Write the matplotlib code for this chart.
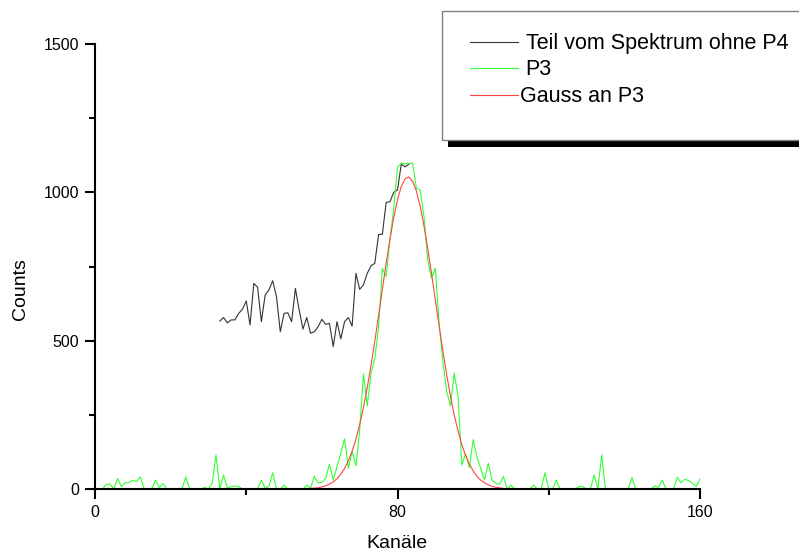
import matplotlib
matplotlib.use('Agg')
import matplotlib.pyplot as plt
from matplotlib.patches import Rectangle
from matplotlib.lines import Line2D

plt.rcParams['font.family'] = ['Liberation Sans', 'DejaVu Sans']

# Teil vom Spektrum ohne P4 (Kanal 33..83)
kanal_teil = list(range(33, 84))
counts_teil = [566, 578, 560, 570, 570, 592, 606, 634, 553, 693,
               680, 564, 654, 671, 702, 648, 530, 592, 594, 564,
               676, 603, 539, 578, 525, 530, 547, 572, 555, 558,
               480, 564, 506, 564, 578, 549, 727, 673, 688, 727,
               752, 761, 858, 859, 966, 968, 1000, 1008, 1095, 1086,
               1095]

# P3 (Kanal 0..160)
kanal_p3 = list(range(0, 161))
counts_p3 = [0, 0, 0, 16, 16, 0, 35, 8, 21, 22,
             30, 25, 41, 0, 0, 0, 30, 5, 18, 0,
             0, 0, 0, 0, 41, 0, 0, 0, 0, 5,
             0, 20, 115, 0, 47, 3, 8, 10, 8, 0,
             0, 0, 0, 0, 30, 2, 10, 55, 0, 0,
             13, 0, 0, 0, 0, 0, 13, 3, 42, 21,
             22, 36, 84, 30, 75, 120, 169, 70, 126, 78,
             199, 388, 280, 390, 440, 547, 744, 716, 840, 946,
             1085, 1098, 1096, 1098, 1098, 1013, 1008, 918, 772, 710,
             744, 560, 430, 330, 280, 390, 315, 81, 118, 72,
             166, 109, 70, 30, 87, 30, 19, 16, 42, 0,
             13, 0, 0, 0, 0, 0, 13, 0, 0, 55,
             0, 0, 30, 0, 0, 0, 0, 0, 8, 8,
             0, 0, 47, 0, 115, 0, 0, 0, 0, 0,
             0, 0, 39, 0, 0, 0, 0, 0, 10, 6,
             30, 0, 0, 0, 39, 21, 33, 28, 20, 8,
             35]

# Gauss an P3 (Kanal 37..130)
kanal_gauss = list(range(37, 131))
counts_gauss = [0] * 18 + [
    1, 1, 2, 3, 4, 7, 11, 16, 24, 35,
    50, 69, 95, 127, 168, 217, 275, 342, 417, 498,
    585, 673, 761, 842, 915, 975, 1020, 1045, 1052, 1037,
    1004, 953, 887, 810, 726, 638, 550, 465, 386, 314,
    250, 196, 150, 113, 84, 61, 43, 30, 21, 14,
    9, 6, 4, 2, 1, 1] + [0] * 20

labels = ['Teil vom Spektrum ohne P4', 'P3', 'Gauss an P3']
colors = ['#333333', '#33ff33', '#ff4444']

W, H = 799, 555
fig = plt.figure(figsize=(W / 100, H / 100), dpi=100)
ax = fig.add_axes([95 / W, 1 - 489 / H, 605 / W, 445 / H])

ax.plot(kanal_teil, counts_teil, color=colors[0], lw=0.8)
ax.plot(kanal_p3, counts_p3, color=colors[1], lw=0.8)
ax.plot(kanal_gauss, counts_gauss, color=colors[2], lw=0.8)

ax.set_xlim(0, 160)
ax.set_ylim(0, 1500)
ax.set_xticks([0, 80, 160])
ax.set_xticks([40, 120], minor=True)
ax.set_yticks([0, 500, 1000, 1500])
ax.set_yticks([250, 750, 1250], minor=True)

for s in ['top', 'right']:
    ax.spines[s].set_visible(False)
for s in ['left', 'bottom']:
    ax.spines[s].set_linewidth(1.5)
ax.tick_params(which='major', length=7.5, width=1.5, labelsize=11.5, pad=4)
ax.tick_params(which='minor', length=4, width=1.5)

ax.set_xlabel('Kanäle', fontsize=14, va='center')
ax.xaxis.set_label_coords((397 - 95) / 605, (489 - 543) / 445)
ax.set_ylabel('Counts', fontsize=14, ha='center', va='center')
ax.yaxis.set_label_coords((20 - 95) / 605, (489 - 289) / 445)

# Legende im Origin-Stil mit Schatten
fig.patches.append(Rectangle((448 / W, 1 - 147 / H), 400 / W, 128 / H,
                             transform=fig.transFigure, facecolor='black',
                             edgecolor='none', zorder=5))
fig.patches.append(Rectangle((441.5 / W, 1 - 139.5 / H), 400 / W, 129 / H,
                             transform=fig.transFigure, facecolor='white',
                             edgecolor='#808080', lw=1, zorder=6))
ys = [41.7, 68.3, 95]
xs_text = [525.5, 525.5, 519.5]
for lab, c, y, xt in zip(labels, colors, ys, xs_text):
    fig.lines.append(Line2D([470 / W, 518 / W], [1 - y / H, 1 - y / H],
                            transform=fig.transFigure, color=c, lw=0.8,
                            zorder=7))
    fig.text(xt / W, 1 - (y + 6.8) / H, lab, fontsize=15.5,
             va='baseline', ha='left', zorder=8)

plt.savefig('out.png', dpi=100)
